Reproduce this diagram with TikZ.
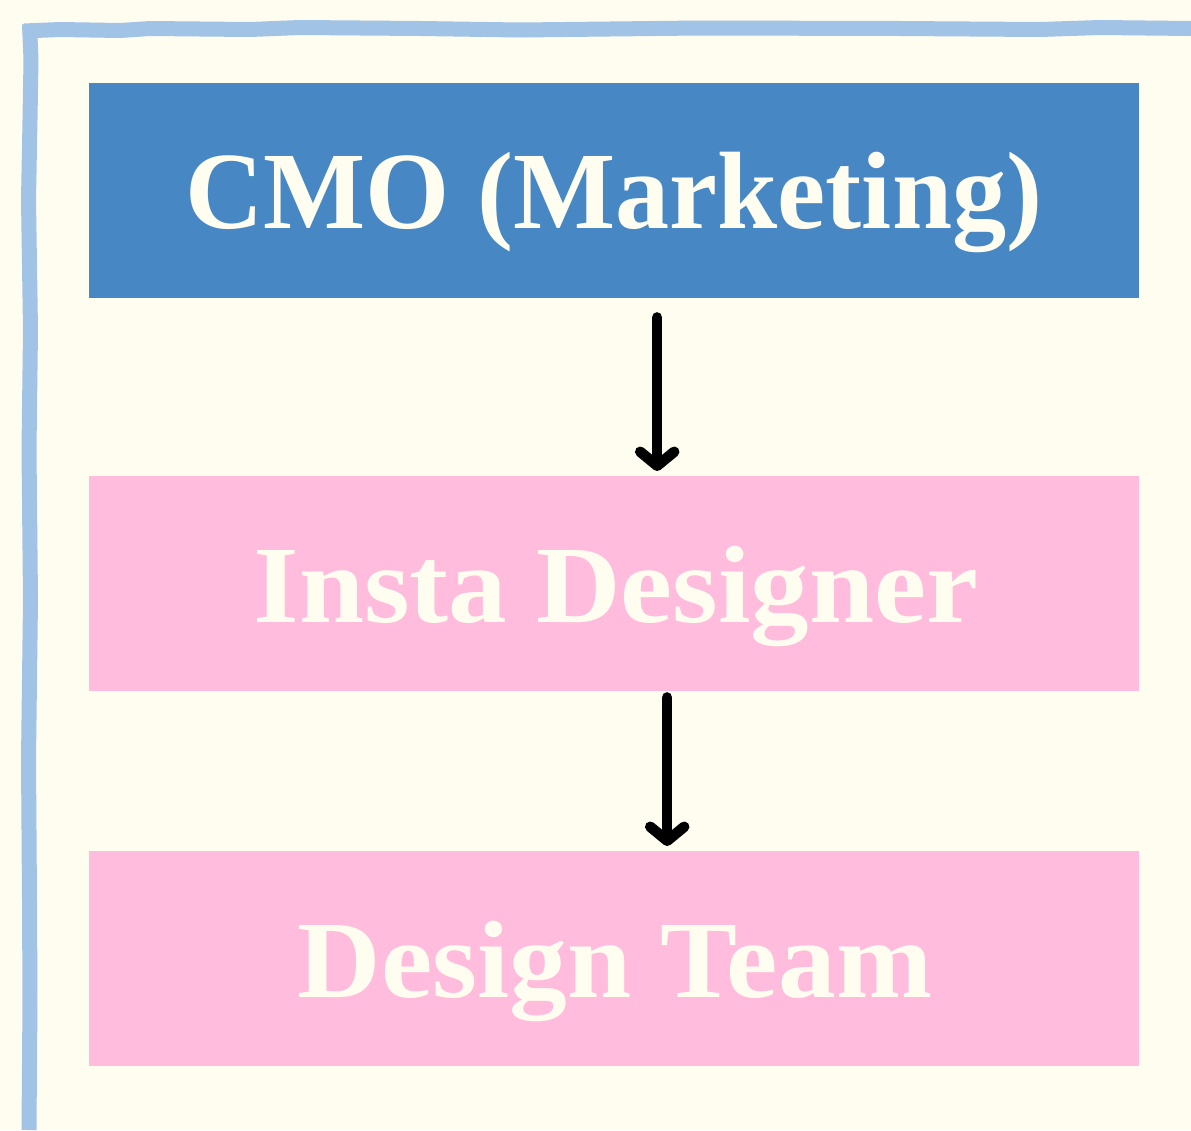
\documentclass[tikz,border=0pt]{standalone}
\usepackage{fontspec}
\setmainfont{Liberation Serif}
\usetikzlibrary{arrows.meta}
\definecolor{bgcream}{HTML}{FFFDF0}
\definecolor{frameblue}{HTML}{A0C3E6}
\definecolor{boxblue}{HTML}{4788C4}
\definecolor{boxpink}{HTML}{FFBCDD}
\definecolor{txtcream}{HTML}{FFFDF0}
\tikzset{
  orgbox/.style={draw=none, minimum width=1050pt, minimum height=215pt, inner sep=0pt},
  boxlabel/.style={text=txtcream, font=\fontsize{110}{120}\selectfont\bfseries, inner sep=0pt, anchor=base},
  flowarrow/.style={line width=10.5pt, line cap=round, black,
    -{Straight Barb[length=14pt, width=34pt, line cap=round, line join=round]}},
  sketchline/.style={frameblue, line width=15pt, line cap=butt, line join=round}
}
\begin{document}
\begin{tikzpicture}[x=1pt, y=-1pt]
\fill[bgcream] (0,0) rectangle (1191,1130);
\useasboundingbox (0,0) rectangle (1191,1130);
% hand drawn frame
\draw[sketchline] (24,31) -- (60,29.5) -- (120,30.5) -- (150,28.5) -- (250,29.5) -- (300,27.5) -- (420,28.5) -- (520,30) -- (700,28) -- (900,28.5) -- (1040,29.5) -- (1100,27.5) -- (1191,28.5);
\draw[sketchline] (29.5,24) -- (31,60) -- (30,120) -- (28.5,200) -- (30.5,330) -- (29,450) -- (30.5,600) -- (28.5,760) -- (29.5,900) -- (30,1000) -- (29,1130);
% boxes
\node[orgbox, fill=boxblue, anchor=north west] (cmo) at (89,83) {};
\node[orgbox, fill=boxpink, anchor=north west] (insta) at (89,476) {};
\node[orgbox, fill=boxpink, anchor=north west] (team) at (89,851) {};
% labels
\node[boxlabel] (cmolbl) at (614,228) {\scalebox{0.984}[1]{CMO (Marketing)}};
\node[boxlabel] (instalbl) at (616,622) {\scalebox{1.064}[1]{Insta Designer}};
\node[boxlabel] (teamlbl) at (615,997) {\scalebox{1.05}[1]{Design Team}};
% arrows
\coordinate (a1s) at ([shift={(43pt,-19pt)}]cmo.south);
\coordinate (a1e) at ([shift={(43pt,5pt)}]insta.north);
\coordinate (a2s) at ([shift={(53pt,-6pt)}]insta.south);
\coordinate (a2e) at ([shift={(53pt,5pt)}]team.north);
\draw[flowarrow] (a1s) -- (a1e);
\draw[flowarrow] (a2s) -- (a2e);
\end{tikzpicture}
\end{document}
